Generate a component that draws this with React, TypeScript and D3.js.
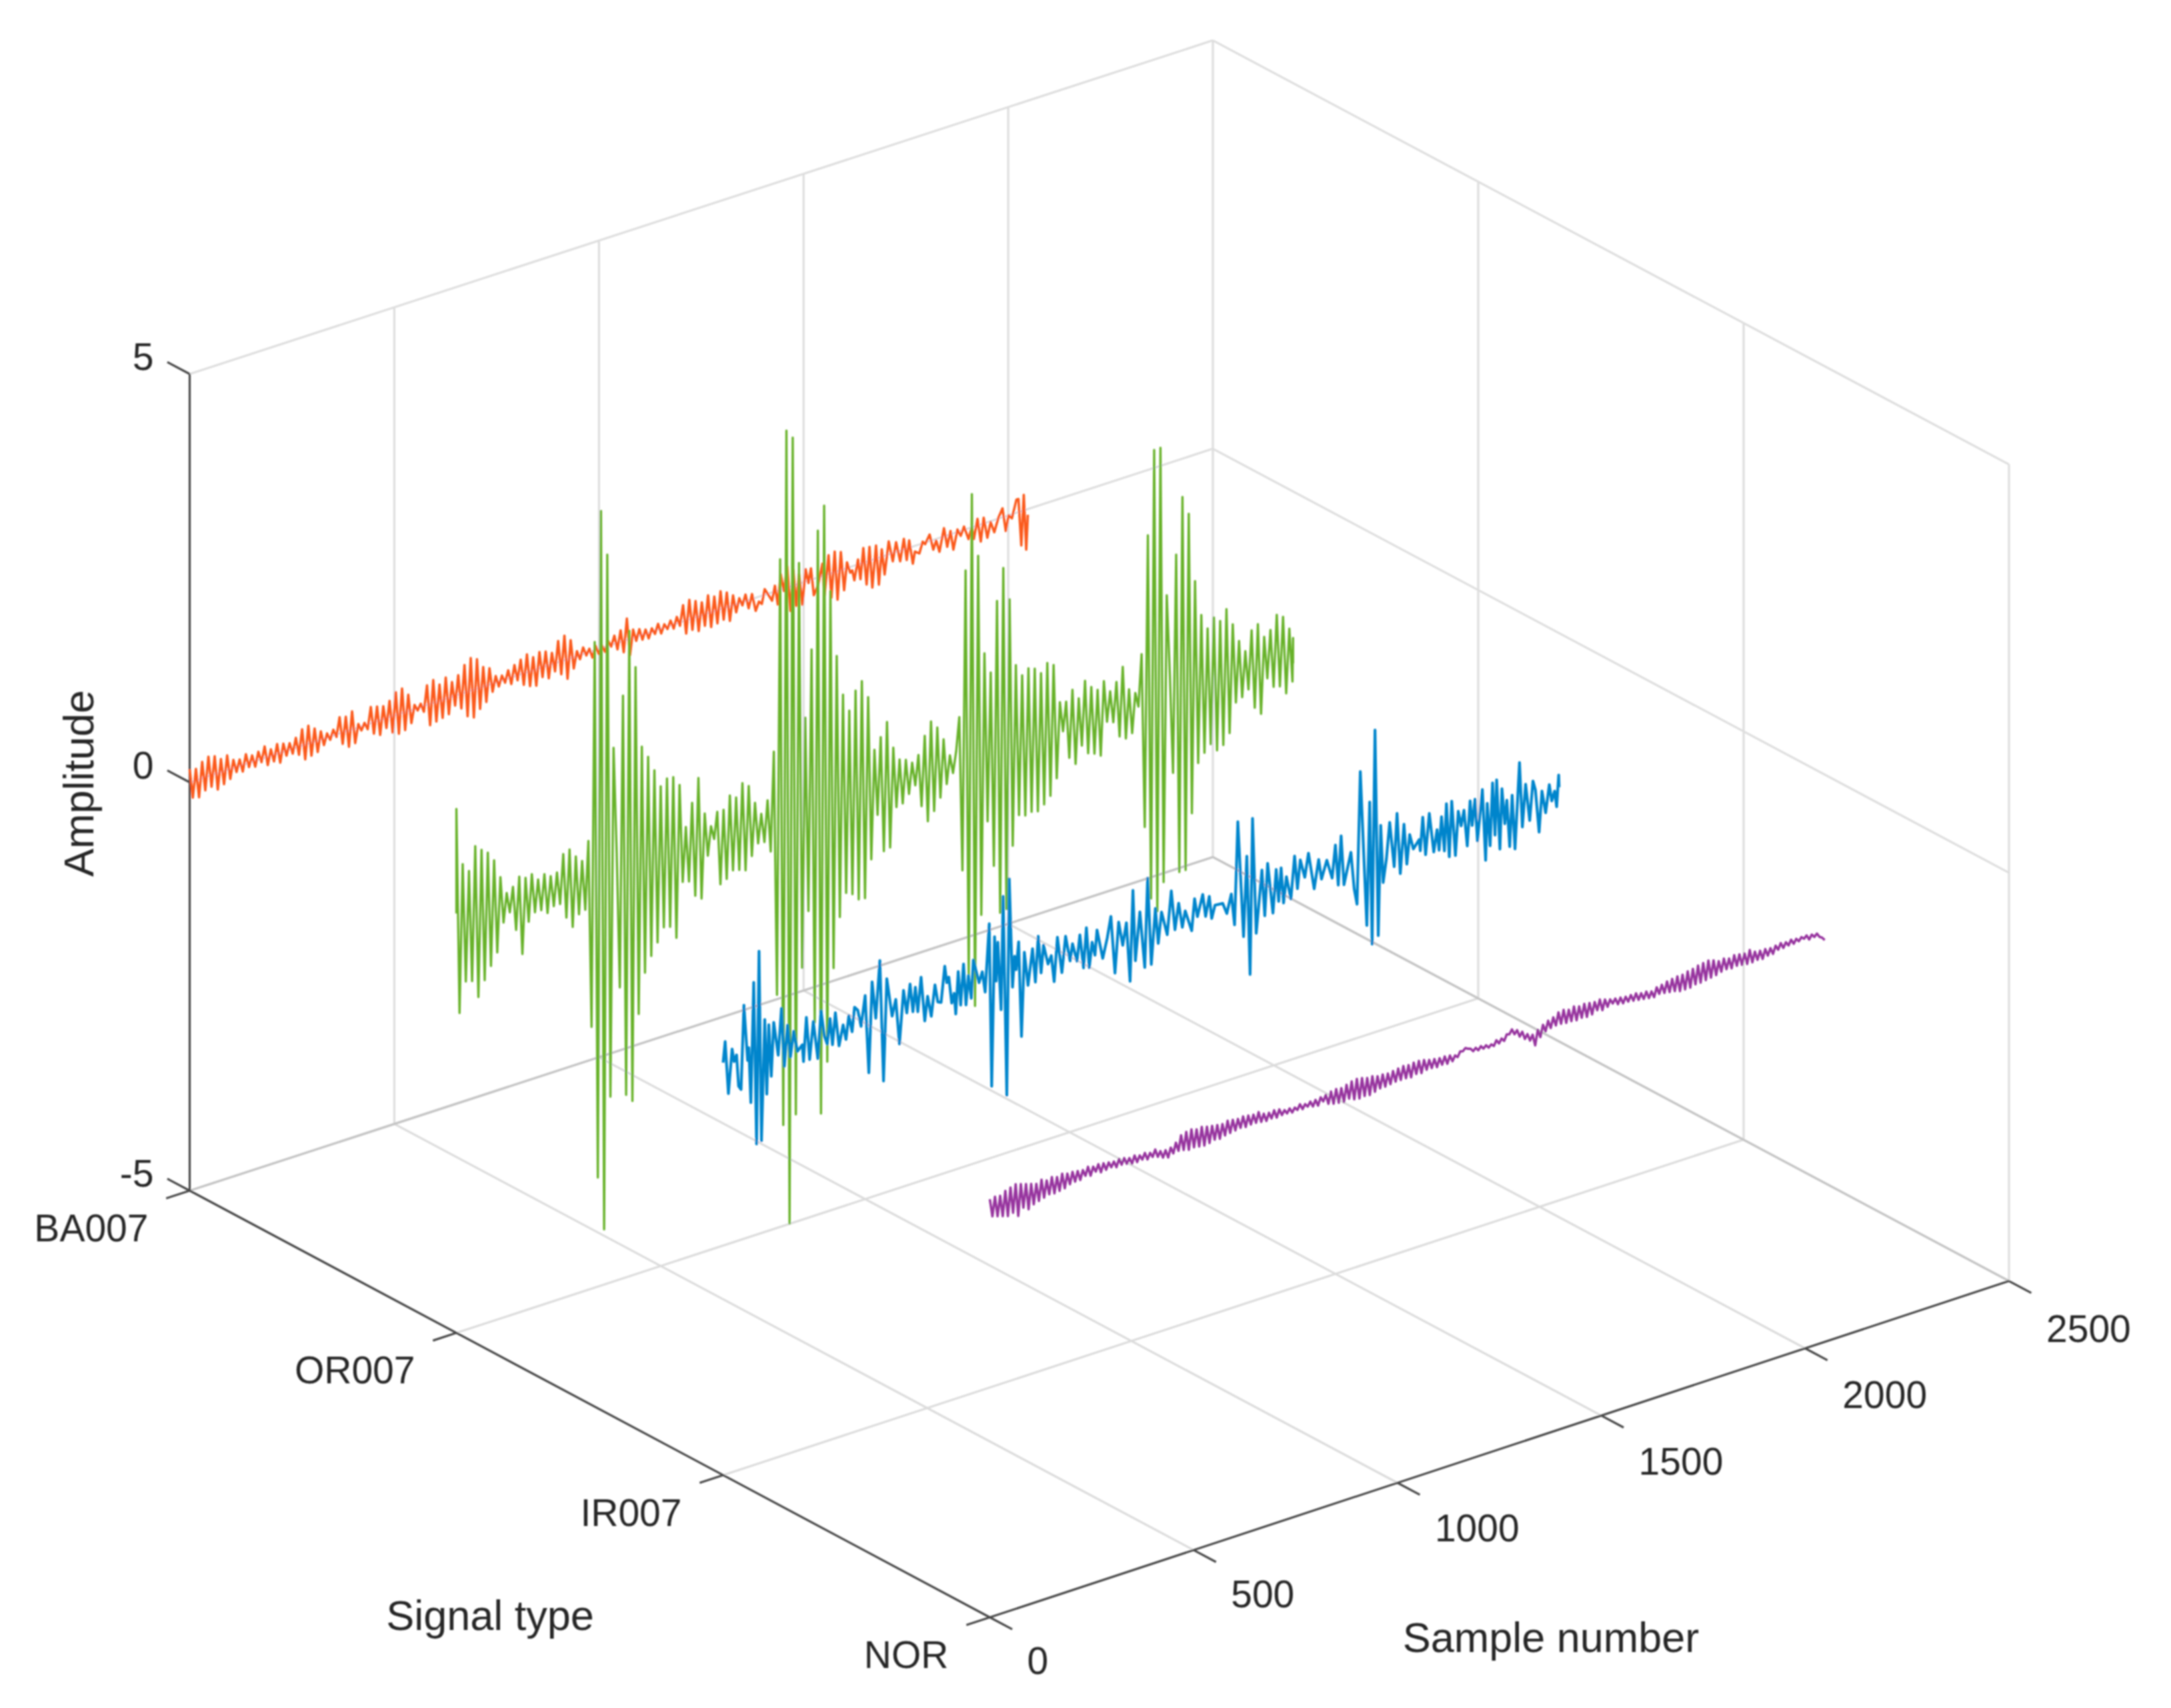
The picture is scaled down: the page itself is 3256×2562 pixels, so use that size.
import React from "react";
import * as d3 from "d3";

const width = 3256;
const height = 2562;

const sampleTicks = [0, 500, 1000, 1500, 2000, 2500];
const signalTypes = ["BA007", "OR007", "IR007", "NOR"];
const amplitudeTicks = [-5, 0, 5];

// red trace, first part: one reading per half cycle
const redHead = [
  .16,-.2,.14,-.22,.2,-.16,.24,-.14,.22,-.2,.16,-.16,.18,-.12,
  .1,-.06,.08,-.08,.12,-.05,.08,-.07,.1,-.04,
  .14,-.1,.08,-.08,.12,-.12,.1,-.06,.08,-.06,.12,-.1,
  .2,-.18,.22,-.16,.16,-.14,.1,-.08,
  .05,-.04,.07,-.03,
  .2,-.14,.18,-.2,.22,-.18,
  .04,-.05,.03,-.06,
  .2,-.14,.18,-.18,.16,-.12,.2,-.2,.28,-.24,.3,-.22,.2,-.16,
  .05,-.03,.04,-.07,
  .24,-.26,.28,-.24,.2,-.22,.26,-.2,
  .18,-.12,.24,-.18,.34,-.3,.4,-.34,.36,-.26,.24,-.2,.2,-.1,
  .08,-.06,.06,-.04,.1,-.08,.14,-.06,
  .18,-.14,.22,-.18,.16,-.2,.2,-.12,.18,-.16,.14,-.1,
  .26,-.16,.3,-.24,.22,-.14,
  .06,-.05,.08,-.03,.04,-.08,.05,-.06,
  .03,-.06,.06,-.02,
  .1,-.08,.14,-.14,.26,-.2,
  .1,-.05,.08,-.06,.05,-.07,.04,-.04,.07,-.06,.04,-.03,.06,-.05,.08,-.04,
  .2,-.16,.24,-.14,.2,-.18,.16,-.14,.22,-.18,.18,-.16,.22,-.14,.18,-.18,.12,-.1,
  .06,-.04,.08,-.1,
];

// red trace, last third: [sample, value]
const redTail: [number, number][] = [
  [1374,.06],[1383,-.16],[1391,-.06],[1398,-.1],[1405,.07],[1423,-.1],[1430,.07],[1437,-.17],[1444,.19],[1452,-.03],
  [1460,.26],[1468,-.3],[1475,.19],[1482,-.26],[1489,.12],[1497,-.27],[1505,.15],[1512,-.03],[1518,.14],[1525,-.2],
  [1535,-.1],[1546,.15],[1551,-.25],[1561,.23],[1568,-.3],[1576,.25],[1583,-.35],[1591,.22],[1599,-.26],[1606,.07],
  [1614,-.07],[1619,-.05],[1624,-.18],[1633,.06],[1639,-.19],[1646,.18],[1654,-.28],[1661,.17],[1668,-.34],[1677,.16],
  [1684,-.33],[1691,.09],[1698,-.23],[1708,.16],[1718,-.1],[1726,.12],[1736,-.13],[1745,.13],[1752,-.14],[1758,.09],
  [1767,-.21],[1772,-.07],[1783,-.11],[1791,.02],[1797,-.02],[1808,.08],[1817,-.12],[1824,-.02],[1832,-.17],[1843,.1],
  [1851,-.14],[1859,.04],[1866,-.2],[1876,.03],[1884,-.06],[1892,.04],[1903,-.13],[1911,0],[1916,-.15],[1925,.08],
  [1933,-.21],[1940,.07],[1949,-.19],[1957,-.01],[1966,-.15],[1976,.01],[1986,.11],[1994,-.18],[2001,0],[2009,-.05],
  [2020,.16],[2025,.16],[2032,-.42],[2038,.19],[2044,-.49],[2048,-.07],
];

// green trace, one reading per half cycle
const greenOR007 = [
  1.28,-1.23,.58,-.87,.47,-.89,.75,-1.11,.68,-.93,
  .62,-.78,.5,-.64,.27,-.3,.05,-.2,.1,-.44,
  .2,-.76,.16,-.39,.18,-.3,.09,-.3,.13,-.36,
  .08,-.3,.1,-.3,.3,-.49,.33,-.63,.22,-.5,
  .14,-.47,.36,-1.93,2.77,-3.8,4.35,-4.46,3.79,-2.86,
  1.4,.1,-1.56,2.0,-2.9,2.77,-3.0,2.3,-1.96,1.3,
  -1.48,1.15,-1.3,.96,-1.16,.74,-1.0,.81,-1.02,.8,
  -1.18,.68,-.52,.14,-.54,.41,-.74,.69,-.8,.23,
  -.3,.05,-.12,.2,-.7,.2,-.66,.35,-.58,.3,
  -.6,.45,-.63,.39,-.48,.16,-.35,0,-.36,.14,
  -.5,.71,-2.28,3.04,-3.9,4.59,-5.13,4.48,-3.82,2.92,
  -2.05,1.0,-1.38,1.81,-2.77,3.24,-3.91,3.52,-3.3,2.45,
  -2.18,1.63,-1.58,1.13,-1.31,.91,-1.35,1.13,-1.44,1.22,
  -1.45,1.0,-1.0,.33,-.48,.46,-.95,.62,-.93,.28,
  -.46,.11,-.44,.08,-.35,.02,-.27,.09,-.55,.3,
  -.76,.45,-.66,.35,-.52,.18,-.38,-.04,-.27,-.02,
  .39,-1.5,2.16,-2.81,3.07,-3.21,2.29,-2.12,1.07,-1.0,
  .81,-1.57,1.66,-2.17,2.04,-2.15,1.63,-1.4,.8,-1.05,
  .65,-1.08,.71,-1.06,.68,-1.08,.6,-1.02,.7,-.94,
  .65,-.75,.17,-.2,.15,-.55,.27,-.65,.14,-.45,
  .33,-.57,.23,-.6,.17,-.65,.25,-.26,.1,-.29,
  .19,-.49,.35,-.54,.05,-.5,-.02,-.2,.43,-1.7,
  1.86,-2.6,2.88,-2.78,2.88,-2.45,1.05,.06,-1.15,1.51,
  -2.39,2.19,-2.39,1.96,-1.72,1.11,-1.13,.67,-1.03,.48,
  -.95,.59,-1.05,.52,-1.01,.64,-.89,.43,-.54,.2,
  -.5,.05,-.43,.28,-.68,.33,-.78,.15,-.37,.21,
  -.5,.37,-.52,.32,-.63,.15,-.51,.02,-.29,
];

// blue trace: [sample, value]
const blueIR007: [number, number][] = [
  [0,0],[5,.25],[13,-.4],[22,.13],[27,-.03],[33,.04],[38,-.35],[44,-.4],[51,.62],[60,-.07],
  [63,.08],[68,-.6],[75,.86],[82,-1.13],[88,1.22],[94,-1.11],[102,.36],[107,-.56],[112,.28],[118,-.36],
  [124,.29],[135,-.13],[143,.43],[150,-.29],[158,.2],[165,-.2],[173,.1],[182,-.16],[194,-.1],[197,-.31],
  [204,.22],[212,-.31],[221,.14],[232,-.33],[240,.24],[248,-.08],[255,-.19],[262,.11],[268,-.22],[275,.16],
  [284,-.26],[294,-.02],[301,-.21],[308,.07],[316,-.14],[322,.15],[330,.1],[338,-.11],[348,.25],[357,-.71],
  [365,.39],[374,-.07],[384,.62],[393,-.87],[401,.37],[414,-.11],[423,.08],[432,-.48],[442,.16],[450,-.13],
  [458,.21],[465,-.14],[471,.15],[477,-.16],[485,.25],[494,-.3],[501,-.01],[510,-.27],[519,.1],[526,-.12],
  [534,-.14],[543,.29],[548,.08],[553,.14],[560,-.19],[566,-.08],[570,-.34],[576,.17],[582,-.25],[589,.24],
  [595,-.27],[601,.08],[608,-.21],[613,.25],[627,-.05],[635,.07],[642,-.19],[652,.63],[658,-1.37],[665,.45],
  [669,-.1],[673,.37],[681,-.47],[686,.91],[695,-1.54],[701,1.1],[709,-.24],[714,.13],[718,-.04],[724,.29],
  [731,-.88],[738,.14],[747,-.28],[758,.15],[765,-.27],[772,.28],[779,-.18],[785,.15],[796,-.1],[804,-.01],
  [811,-.34],[819,.19],[830,-.26],[839,.17],[850,-.15],[856,.05],[867,-.18],[874,.13],[883,-.29],[890,.19],
  [897,-.31],[904,-.01],[911,-.18],[916,.12],[930,-.25],[941,-.02],[950,.23],[960,-.48],[969,.13],[979,-.17],
  [988,.09],[997,-.64],[1004,.46],[1010,-.41],[1021,.17],[1033,-.53],[1040,.55],[1049,-.52],[1059,.15],[1066,-.29],
  [1074,.08],[1088,-.22],[1098,.3],[1107,-.19],[1116,.12],[1125,-.19],[1132,0],[1148,-.27],[1155,.11],[1162,-.12],
  [1175,.13],[1182,-.15],[1191,.08],[1197,-.2],[1205,-.05],[1224,-.06],[1234,-.2],[1245,.02],[1253,-.37],[1261,.88],
  [1275,-.55],[1283,.42],[1291,-1.04],[1297,.86],[1306,-.56],[1320,.19],[1327,-.38],[1334,.25],[1347,-.38],[1355,.14],
  [1361,-.26],[1367,.14],[1373,-.3],[1380,.01],[1391,-.28],[1400,.23],[1407,-.18],[1414,.16],[1425,-.07],[1434,.21],
  [1448,-.25],[1459,.09],[1466,-.16],[1479,.05],[1492,-.19],[1500,.2],[1507,-.3],[1514,.29],[1521,-.32],[1538,.05],
  [1546,-.41],[1553,-.61],[1561,1.0],[1569,.03],[1577,-.91],[1584,.59],[1590,-1.16],[1597,1.45],[1605,-1.08],[1611,.26],
  [1617,-.45],[1625,-.17],[1633,.26],[1644,-.3],[1651,.34],[1659,-.41],[1668,.18],[1675,-.32],[1682,.03],[1691,-.16],
  [1705,-.07],[1708,-.21],[1714,.19],[1721,-.28],[1730,.21],[1741,-.28],[1749,-.02],[1754,-.28],[1760,.12],[1767,-.31],
  [1772,.26],[1779,-.4],[1785,.27],[1794,-.41],[1801,.12],[1808,-.07],[1815,.11],[1823,-.34],[1830,.2],[1835,-.11],
  [1842,.2],[1848,-.32],[1860,.29],[1868,-.59],[1872,.1],[1879,-.43],[1885,.33],[1891,-.32],[1895,.35],[1903,-.51],
  [1908,.22],[1915,-.22],[1920,.06],[1927,-.52],[1933,.1],[1940,-.57],[1951,.47],[1958,-.33],[1966,.18],[1976,-.28],
  [1984,.19],[1990,.07],[1999,-.46],[2006,.03],[2015,-.25],[2024,.08],[2030,-.13],[2037,-.02],[2042,-.22],[2047,.16],
  [2048,.01],
];

// purple trace, evenly spaced readings
const purpleNOR = [
  .12,-.1,.13,-.12,.12,-.14,.16,-.16,.18,-.14,
  .2,-.2,.18,-.12,.16,-.16,.14,-.12,.12,-.1,.15,
  -.08,.12,-.06,.14,-.07,.12,-.06,.14,-.05,.12,-.02,
  .12,-.01,.11,-.01,.1,.02,.12,0,.1,.03,.11,
  0,.1,.01,.09,.02,.08,0,.09,.01,.08,0,
  .06,-.02,.07,-.02,.05,-.01,.06,-.03,.04,-.02,.06,
  -.04,.02,-.07,.01,-.09,.02,-.06,.06,
  -.05,.13,-.06,.15,-.08,.16,-.07,.14,-.08,.15,-.09,.13,
  -.08,.12,-.06,.11,-.07,.1,-.05,.12,-.04,
  .11,-.03,.1,-.02,.11,-.03,.1,-.02,.09,-.02,.1,
  -.03,.06,-.04,.05,-.03,.06,-.04,.05,-.03,
  .02,-.03,.02,-.04,.01,-.03,.03,-.04,.01,-.03,.02,
  -.05,.02,-.06,.03,-.03,.04,
  -.08,.06,-.1,.07,-.11,.06,-.12,.08,-.1,
  .1,-.13,.11,-.14,.1,-.13,.08,-.14,.08,
  -.12,.06,-.1,.06,-.1,.05,-.09,.06,-.08,
  .07,-.08,.08,-.08,.07,-.09,.08,-.07,.08,-.08,.07,
  -.06,.05,-.06,.04,-.07,.03,-.06,.03,-.07,.02,-.06,
  0,-.03,.03,.02,.05,.03,
  .02,-.02,.01,-.03,.01,-.03,0,-.04,-.01,
  -.04,.02,-.03,.02,-.02,.05,.04,.09,
  .02,.06,-.03,.02,-.08,-.03,-.12,-.06,-.2,
  -.02,-.12,.02,-.07,.05,-.05,.07,-.04,
  .11,-.04,.12,-.05,.1,-.05,.12,-.06,.1,
  -.05,.11,-.06,.1,-.05,.09,-.02,.1,-.04,.08,-.02,.06,0,
  .05,-.03,.04,-.04,.03,-.04,.03,-.05,.03,-.06,.01,
  -.07,.01,-.08,-.01,-.09,.02,-.07,.03,-.08,
  .05,-.09,.06,-.1,.07,-.12,.07,-.12,.09,-.12,.1,
  -.1,.12,-.1,.13,-.09,.14,-.08,.12,-.07,
  .09,-.05,.1,-.04,.08,-.05,.1,-.04,.09,-.05,.08,-.06,.1,
  -.06,.06,-.05,.05,-.06,.05,-.04,.04,-.04,
  .05,-.01,.06,-.01,.05,0,.06,0,.05,.01,.05,
  .02,.05,-.01,.04,0,.03,-.02,-.04,-.08,
];

const greenMean = 0.135;
const blueMean = 0.05;

const GREEN_STEP = 7.69;
const RED_STEP = 7.63;

type Pt = { sample: number; amp: number };

const redPts: Pt[] = [
  ...redHead.map((amp, i) => ({ sample: i * RED_STEP, amp })),
  ...redTail.map(([sample, amp]) => ({ sample, amp })),
];
const greenPts: Pt[] = [
  { sample: 0, amp: greenMean },
  ...greenOR007.map((v, i) => ({ sample: Math.min(i * GREEN_STEP, 2047), amp: v + greenMean })),
];
const bluePts: Pt[] = blueIR007.map(([sample, v]) => ({ sample, amp: v + blueMean }));
const purplePts: Pt[] = purpleNOR.map((amp, i) => ({
  sample: (i * 2048) / (purpleNOR.length - 1),
  amp,
}));

const series = [
  { type: "BA007", pts: redPts, color: "#FB5A1E", w: 3.6 },
  { type: "OR007", pts: greenPts, color: "#68B22C", w: 3.4 },
  { type: "IR007", pts: bluePts, color: "#0585CC", w: 4.2 },
  { type: "NOR", pts: purplePts, color: "#97349F", w: 3.6 },
];

// the box is a near-oblique projection from the BA007 / sample 0 corner,
// with a small cross term because the back corner sits a little off the parallelogram
const base = [284.5, 1786];
const edgeX = [1534.5, -500.4];
const edgeY = [1200, 640];
const edgeXY = [-6, -4];
const edgeZ = [0, -1225];

const sx = d3.scaleLinear().domain([0, 2500]).range([0, 1]);
const sy = d3.scalePoint<string>().domain(signalTypes).range([0, 1]);
const sz = d3.scaleLinear().domain([-5, 5]).range([0, 1]);

const project = (u: number, v: number, w: number): [number, number] => [
  base[0] + u * edgeX[0] + v * edgeY[0] + u * v * edgeXY[0] + w * edgeZ[0],
  base[1] + u * edgeX[1] + v * edgeY[1] + u * v * edgeXY[1] + w * edgeZ[1],
];

const seg = (a: [number, number], b: [number, number]) =>
  `M${a[0]},${a[1]}L${b[0]},${b[1]}`;

const FONT = "'Liberation Sans', Arial, sans-serif";
const TEXT = "#262626";

export default function App() {
  const wallGrid: string[] = [];
  const floorGrid: string[] = [];
  const edges: string[] = [];
  const axes: string[] = [];

  sampleTicks.forEach((t) => {
    const u = sx(t);
    if (t > 0) wallGrid.push(seg(project(u, 0, 0), project(u, 0, 1)));
    if (t > 0 && t < 2500) floorGrid.push(seg(project(u, 0, 0), project(u, 1, 0)));
    axes.push(seg(project(u, 1, 0), project(u, 1.028, 0)));
  });
  signalTypes.forEach((s) => {
    const v = sy(s) as number;
    if (v > 0) wallGrid.push(seg(project(1, v, 0), project(1, v, 1)));
    if (v > 0 && v < 1) floorGrid.push(seg(project(0, v, 0), project(1, v, 0)));
    axes.push(seg(project(0, v, 0), project(-0.023, v, 0)));
  });
  amplitudeTicks.forEach((a) => {
    const w = sz(a);
    if (a !== -5) {
      wallGrid.push(seg(project(0, 0, w), project(1, 0, w)));
      wallGrid.push(seg(project(1, 0, w), project(1, 1, w)));
    }
    axes.push(seg(project(0, 0, w), project(0, -0.028, w)));
  });
  edges.push(seg(project(0, 0, 0), project(1, 0, 0)));
  edges.push(seg(project(1, 0, 0), project(1, 1, 0)));
  axes.push(seg(project(0, 0, 0), project(0, 0, 1)));
  axes.push(seg(project(0, 0, 0), project(0, 1, 0)));
  axes.push(seg(project(0, 1, 0), project(1, 1, 0)));

  return (
    <svg
      width={width}
      height={height}
      viewBox={`0 0 ${width} ${height}`}
      style={{ position: "absolute", left: 0, top: 0, background: "#fff" }}
    >
      <defs>
        {/* the source is an upscaled raster, everything is a little soft */}
        <filter id="soft" x="0" y="0" width="100%" height="100%" filterUnits="userSpaceOnUse">
          <feGaussianBlur stdDeviation="0.8" />
        </filter>
      </defs>
      <g filter="url(#soft)">
        <path d={wallGrid.join("")} fill="none" stroke="#DEDEDE" strokeWidth={3.2} />
        <path d={floorGrid.join("")} fill="none" stroke="#DCDCDC" strokeWidth={3.2} />
        <path d={edges.join("")} fill="none" stroke="#C4C4C4" strokeWidth={3.4} />
        <path d={axes.join("")} fill="none" stroke="#4A4A4A" strokeWidth={3.2} />

        {series.map((s) => {
          const v = sy(s.type) as number;
          const line = d3
            .line<Pt>()
            .x((d) => project(sx(d.sample), v, sz(d.amp))[0])
            .y((d) => project(sx(d.sample), v, sz(d.amp))[1]);
          return (
            <path
              key={s.type}
              d={line(s.pts) ?? ""}
              fill="none"
              stroke={s.color}
              strokeWidth={s.w}
              strokeLinejoin="round"
            />
          );
        })}

        <g fontFamily={FONT} fontSize={57} fill={TEXT}>
          {sampleTicks.map((t) => {
            const [x, y] = project(sx(t), 1, 0);
            return (
              <text key={t} x={x + 56} y={y + 85 + sx(t) * 6}>
                {t}
              </text>
            );
          })}
          {signalTypes.map((s) => {
            const [x, y] = project(0, sy(s) as number, 0);
            return (
              <text key={s} x={x - 62} y={y + 76} textAnchor="end">
                {s}
              </text>
            );
          })}
          {amplitudeTicks.map((a) => {
            const [x, y] = project(0, 0, sz(a));
            return (
              <text key={a} x={x - 54} y={y - 6} textAnchor="end">
                {a}
              </text>
            );
          })}
        </g>
        <g fontFamily={FONT} fontSize={63} fill={TEXT} textAnchor="middle">
          <text x={735} y={2445}>Signal type</text>
          <text x={2326} y={2478}>Sample number</text>
          <text transform="translate(140,1175) rotate(-90)">Amplitude</text>
        </g>
      </g>
    </svg>
  );
}
